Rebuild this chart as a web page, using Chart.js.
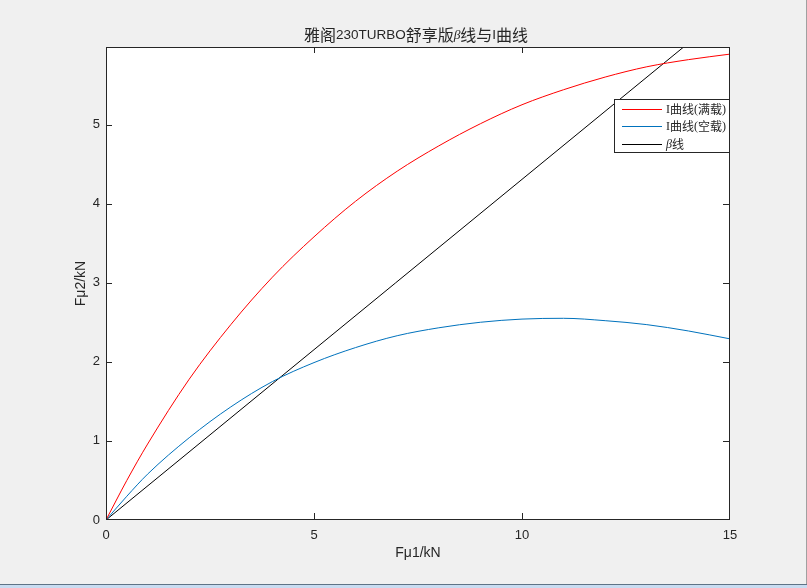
<!DOCTYPE html>
<html>
<head>
<meta charset="utf-8">
<script src="https://cdn.jsdelivr.net/npm/chart.js@4"></script>
<style>
html, body { margin: 0; padding: 0; background: #f0f0f0; overflow: hidden; }
</style>
</head>
<body>
<canvas id="brakeChart" width="807" height="588"></canvas>
<script>
//DATA
//front axle braking force Fμ1 (kN)
const fu1 = [0, 0.5, 1, 2, 3, 4, 5, 6, 7, 8, 9, 10, 11, 12, 13, 14, 15];
//I curve, full load (kN)
const fu2Full = [0, 0.50, 0.96, 1.78, 2.47, 3.07, 3.58, 4.03, 4.41, 4.73, 5.01, 5.25, 5.44, 5.60, 5.73, 5.82, 5.89];
//I curve, empty (kN)
const fu2Empty = [0, 0.30, 0.58, 1.04, 1.43, 1.75, 1.99, 2.18, 2.33, 2.43, 2.50, 2.54, 2.55, 2.52, 2.47, 2.39, 2.29];
//beta line end points
const betaX = [0, 15];
const betaY = [0, 6.46];

const seriesNames = ['I曲线(满载)', 'I曲线(空载)', 'β线'];
const titleText = '雅阁230TURBO舒享版β线与I曲线';
const xTitle = 'Fμ1/kN';
const yTitle = 'Fμ2/kN';

const toPoints = (xs, ys) => xs.map((x, i) => ({x: x, y: ys[i]}));

const axisColor = '#262626';
const sansFont = '"Liberation Sans", Arial, "Noto Sans CJK SC", sans-serif';
const serifFont = '"Liberation Serif", "Times New Roman", "Noto Sans CJK SC", serif';
const cjkFont = '"Noto Sans CJK SC", sans-serif';

//draw text where β comes out italic serif, like the tex interpreter
function drawMixed(ctx, text, x, y, size, baseFont, align, cjkSize) {
    const parts = [];
    for (const ch of text) {
        let f;
        if (ch === 'β') f = 'italic ' + size + 'px ' + serifFont;
        else if (ch.charCodeAt(0) > 0x2e80) f = (cjkSize || size) + 'px ' + cjkFont;
        else f = size + 'px ' + baseFont;
        if (parts.length && parts[parts.length - 1].font === f) parts[parts.length - 1].t += ch;
        else parts.push({t: ch, font: f});
    }
    let total = 0;
    parts.forEach(p => { ctx.font = p.font; p.w = ctx.measureText(p.t).width; total += p.w; });
    let cx = align === 'center' ? x - total / 2 : x;
    ctx.textAlign = 'left';
    ctx.textBaseline = 'middle';
    parts.forEach(p => { ctx.font = p.font; ctx.fillText(p.t, cx, y); cx += p.w; });
}

const matlabLook = {
    id: 'matlabLook',
    beforeDraw(chart) {
        const {ctx, chartArea: a} = chart;
        ctx.save();
        ctx.fillStyle = '#f0f0f0';
        ctx.fillRect(0, 0, chart.width, chart.height);
        ctx.fillStyle = '#ffffff';
        ctx.fillRect(a.left, a.top, a.right - a.left, a.bottom - a.top);
        ctx.restore();
    },
    afterDatasetsDraw(chart) {
        const {ctx, chartArea: a, scales} = chart;
        ctx.save();
        ctx.strokeStyle = axisColor;
        ctx.lineWidth = 1;
        //box
        ctx.strokeRect(a.left + 0.5, a.top + 0.5, a.right - a.left - 1, a.bottom - a.top - 1);
        //inward ticks on all four sides (ends are covered by the box)
        const tl = 6;
        ctx.beginPath();
        scales.x.ticks.forEach(t => {
            const px = Math.round(scales.x.getPixelForValue(t.value)) + 0.5;
            if (px < a.left + 2 || px > a.right - 2) return;
            ctx.moveTo(px, a.bottom - 1); ctx.lineTo(px, a.bottom - 1 - tl);
            ctx.moveTo(px, a.top); ctx.lineTo(px, a.top + tl);
        });
        scales.y.ticks.forEach(t => {
            const py = Math.round(scales.y.getPixelForValue(t.value)) + 0.5;
            if (py < a.top + 2 || py > a.bottom - 2) return;
            ctx.moveTo(a.left, py); ctx.lineTo(a.left + tl, py);
            ctx.moveTo(a.right - 1, py); ctx.lineTo(a.right - 1 - tl, py);
        });
        ctx.stroke();

        //legend box inside the axes, top right
        const lx = 614, ly = 99, lw = a.right - 614, lh = 54;
        ctx.fillStyle = '#ffffff';
        ctx.fillRect(lx, ly, lw, lh);
        ctx.strokeRect(lx + 0.5, ly + 0.5, lw - 1, lh - 1);
        chart.data.datasets.forEach((ds, i) => {
            const ry = Math.round(109 + i * 17.3) + 0.5;
            ctx.strokeStyle = ds.borderColor;
            ctx.beginPath();
            ctx.moveTo(622, ry); ctx.lineTo(662, ry);
            ctx.stroke();
            ctx.fillStyle = '#262626';
            drawMixed(ctx, ds.label, 666, ry, 12, serifFont, 'left', 12);
        });
        ctx.restore();
    },
    afterDraw(chart) {
        const {ctx} = chart;
        ctx.save();
        ctx.fillStyle = '#262626';
        drawMixed(ctx, titleText, 416, 35, 13.5, sansFont, 'center', 16);
        //window frame edges
        ctx.fillStyle = '#a0a0a0';
        ctx.fillRect(806, 0, 1, 584);
        ctx.fillStyle = '#5f7386';
        ctx.fillRect(0, 584, 807, 1);
        ctx.fillStyle = '#c9dcf1';
        ctx.fillRect(0, 585, 807, 3);
        ctx.restore();
    }
};

const dataBrake = {
    datasets: [{
        label: seriesNames[0],
        data: toPoints(fu1, fu2Full),
        borderColor: '#ff0000',
    }, {
        label: seriesNames[1],
        data: toPoints(fu1, fu2Empty),
        borderColor: '#0072bd',
    }, {
        label: seriesNames[2],
        data: toPoints(betaX, betaY),
        borderColor: '#000000',
    }]
};

const optionBrake = {
    responsive: false,
    animation: false,
    devicePixelRatio: 1,
    layout: { padding: { left: 64, top: 47, right: 77, bottom: 26 } },
    elements: {
        line: { borderWidth: 1, cubicInterpolationMode: 'monotone', fill: false },
        point: { radius: 0, hoverRadius: 0 }
    },
    plugins: {
        legend: { display: false },
        title: { display: false },
        tooltip: { enabled: false }
    },
    scales: {
        x: {
            type: 'linear',
            min: 0,
            max: 15,
            grid: { display: false, drawTicks: false },
            border: { display: false },
            ticks: { stepSize: 5, padding: 8, color: axisColor, font: { family: sansFont, size: 13 } },
            title: { display: true, text: xTitle, color: axisColor, padding: { top: 0, bottom: 0.6 }, font: { family: sansFont, size: 14 } },
            afterFit(scale) { scale.height = 42; }
        },
        y: {
            type: 'linear',
            min: 0,
            max: 5.98,
            grid: { display: false, drawTicks: false },
            border: { display: false },
            ticks: { stepSize: 1, includeBounds: false, padding: 6, color: axisColor, font: { family: sansFont, size: 13 } },
            title: { display: true, text: yTitle, color: axisColor, padding: { top: 8.6, bottom: 0 }, font: { family: sansFont, size: 14 } },
            afterFit(scale) { scale.width = 42; }
        }
    }
};

const configBrake = {
    type: 'line',
    data: dataBrake,
    options: optionBrake,
    plugins: [matlabLook]
};

const brakeChart = new Chart(
    document.getElementById('brakeChart').getContext('2d'),
    configBrake
);
</script>
</body>
</html>
